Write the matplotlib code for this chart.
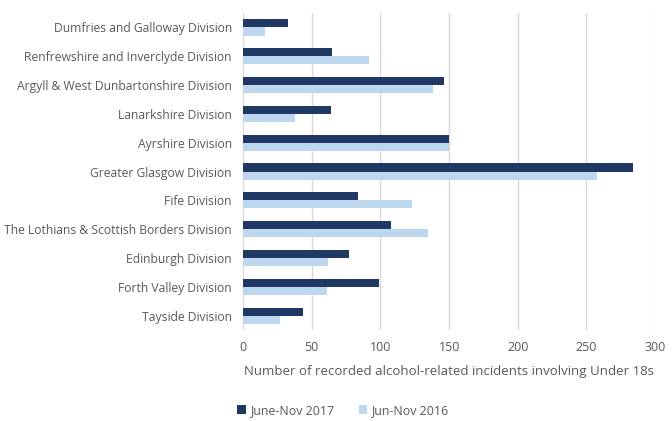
import numpy as np
import matplotlib
matplotlib.use('Agg')
import matplotlib.pyplot as plt

plt.rcParams['font.family'] = ['Open Sans', 'DejaVu Sans']

divisiones = ['Dumfries and Galloway Division', 'Renfrewshire and Inverclyde Division',
              'Argyll & West Dunbartonshire Division', 'Lanarkshire Division',
              'Ayrshire Division', 'Greater Glasgow Division', 'Fife Division',
              'The Lothians & Scottish Borders Division', 'Edinburgh Division',
              'Forth Valley Division', 'Tayside Division']
val_2017 = [33, 65, 146, 64, 150, 284, 84, 108, 77, 99, 44]
val_2016 = [16, 92, 138, 38, 150, 258, 123, 135, 62, 61, 27]
nombres = ['June-Nov 2017', 'Jun-Nov 2016']

color_oscuro = '#1F3864'
color_claro = '#BDD7EE'
gris = '#595959'

fig = plt.figure(figsize=(6.72, 4.21), dpi=100)
ax = fig.add_axes([0.3616, 0.216, 0.6134, 0.753])

y = np.arange(len(divisiones))
h = 0.28
ax.barh(y - h/2, val_2017, height=h, color=color_oscuro, label=nombres[0], zorder=3)
ax.barh(y + h/2, val_2016, height=h, color=color_claro, label=nombres[1], zorder=3)

ax.set_ylim(len(divisiones) - 0.5, -0.5)
ax.set_xlim(0, 300)
ax.set_xticks(np.arange(0, 301, 50))
ax.set_yticks(y)
ax.set_yticklabels(divisiones)
ax.tick_params(axis='both', length=0, labelsize=8.7, labelcolor=gris)
ax.tick_params(axis='x', pad=8, labelsize=9)
ax.tick_params(axis='y', pad=8)
ax.grid(axis='x', color='#D9D9D9', linewidth=1, zorder=0)
for s in ax.spines.values():
    s.set_visible(False)

ax.set_xlabel('Number of recorded alcohol-related incidents involving Under 18s',
              fontsize=9.5, color=gris, labelpad=8)

leg = fig.legend(loc='center', bbox_to_anchor=(0.51, 0.025), ncol=2, frameon=False,
                 fontsize=8.9, handlelength=0.7, handleheight=0.7, handletextpad=0.3,
                 columnspacing=2.0)
for t in leg.get_texts():
    t.set_color(gris)

plt.savefig('out.png', dpi=100)
